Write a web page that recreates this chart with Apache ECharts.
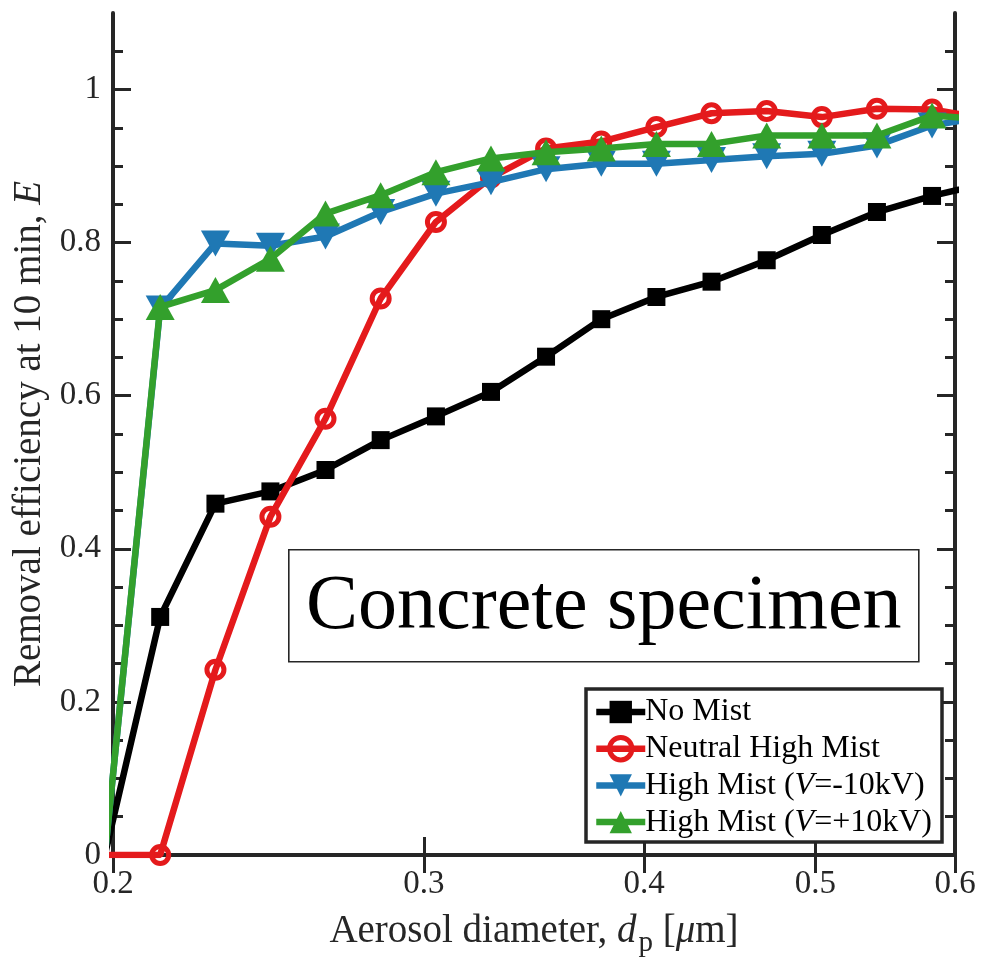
<!DOCTYPE html>
<html>
<head>
<meta charset="utf-8">
<script src="https://cdn.jsdelivr.net/npm/echarts@6/dist/echarts.min.js"></script>
<style>
html,body{margin:0;padding:0;background:#fff;}
#chart{width:989px;height:965px;}
</style>
</head>
<body>
<div id="chart"></div>
<script>
// Aerosol diameters (µm), SMPS channels (first and last lie just outside the axis range)
const diameters = [0.1979, 0.2127, 0.2286, 0.2456, 0.2639, 0.2836, 0.3048, 0.3275, 0.3519, 0.3782, 0.4064, 0.4367, 0.4693, 0.5043, 0.5419, 0.5823, 0.6257];
const noMist      = [0.000, 0.311, 0.459, 0.475, 0.503, 0.542, 0.573, 0.605, 0.651, 0.700, 0.729, 0.749, 0.777, 0.810, 0.840, 0.861, 0.878];
const neutralHigh = [0.000, 0.000, 0.242, 0.442, 0.570, 0.727, 0.827, 0.885, 0.923, 0.932, 0.951, 0.969, 0.972, 0.964, 0.975, 0.974, 0.962];
const highNeg     = [0.000, 0.714, 0.799, 0.796, 0.808, 0.840, 0.864, 0.879, 0.896, 0.903, 0.903, 0.908, 0.913, 0.916, 0.927, 0.953, 0.965];
const highPos     = [0.000, 0.716, 0.738, 0.779, 0.838, 0.862, 0.892, 0.910, 0.918, 0.923, 0.929, 0.929, 0.940, 0.940, 0.940, 0.966, 0.961];
const seriesNames = ['No Mist', 'Neutral High Mist', 'High Mist (V=-10kV)', 'High Mist (V=+10kV)'];
const xTicks = [0.2, 0.3, 0.4, 0.5, 0.6];
const yTicks = [0, 0.2, 0.4, 0.6, 0.8, 1];
const yMinorTicks = [0.05, 0.1, 0.15, 0.25, 0.3, 0.35, 0.45, 0.5, 0.55, 0.65, 0.7, 0.75, 0.85, 0.9, 0.95, 1.05];
const annotationText = 'Concrete specimen';

const FONT = 'Liberation Serif';
const AX = '#262626';
const colors = ['#000000', '#E41A1C', '#1F78B4', '#33A02C'];
const LW = 6.5;

function pairs(ys) { return diameters.map((d, i) => [d, ys[i]]); }

const chart = echarts.init(document.getElementById('chart'));

const xBase = {
  type: 'log', logBase: 10, min: 0.2, max: 0.6, gridIndex: 0,
  splitLine: { show: false },
  axisLine: { show: true, lineStyle: { color: AX, width: 4 } },
  axisTick: { show: true, inside: true, length: 18, customValues: xTicks, lineStyle: { color: AX, width: 3 } },
  minorTick: { show: false }
};
const yBase = {
  type: 'value', min: 0, max: 1.1, gridIndex: 0,
  splitLine: { show: false },
  axisLine: { show: true, lineStyle: { color: AX, width: 4 } },
  axisTick: { show: true, inside: true, length: 18, customValues: yTicks, lineStyle: { color: AX, width: 3 } }
};
const yMinor = {
  type: 'value', min: 0, max: 1.1, gridIndex: 0,
  splitLine: { show: false },
  axisLine: { show: false },
  axisLabel: { show: false },
  axisTick: { show: true, inside: true, length: 10, customValues: yMinorTicks, lineStyle: { color: AX, width: 3 } }
};

const option = {
  backgroundColor: '#fff',
  animation: false,
  grid: { left: 113, right: 34, top: 13, bottom: 110, containLabel: false },
  xAxis: [
    Object.assign({}, xBase, {
      position: 'bottom',
      axisLabel: {
        customValues: xTicks, fontFamily: FONT, fontSize: 33, color: AX, margin: 13,
        formatter: v => String(Math.round(v * 10) / 10)
      },
      name: '{n|Aerosol diameter, }{i|d}{s|p}{n| [}{i|\u03bc}{n|m]}',
      nameLocation: 'middle', nameGap: 50,
      nameTextStyle: {
        fontFamily: FONT, fontSize: 39, color: AX,
        rich: {
          n: { fontFamily: FONT, fontSize: 39, color: AX },
          i: { fontFamily: FONT, fontSize: 39, color: AX, fontStyle: 'italic' },
          s: { fontFamily: FONT, fontSize: 29, color: AX, padding: [24, 0, 0, 2] }
        }
      }
    }),
    Object.assign({}, xBase, { position: 'top', axisLabel: { show: false } })
  ],
  yAxis: [
    Object.assign({}, yBase, {
      position: 'left',
      axisLabel: {
        customValues: yTicks, fontFamily: FONT, fontSize: 33, color: AX, margin: 12,
        formatter: v => String(Math.round(v * 10) / 10)
      },
      name: '{n|Removal efficiency at 10 min, }{i|E}',
      nameLocation: 'middle', nameGap: 46, nameRotate: 90,
      nameTextStyle: {
        fontFamily: FONT, fontSize: 39, color: AX,
        rich: {
          n: { fontFamily: FONT, fontSize: 39, color: AX },
          i: { fontFamily: FONT, fontSize: 39, color: AX, fontStyle: 'italic' }
        }
      }
    }),
    Object.assign({}, yMinor, { position: 'left' }),
    Object.assign({}, yBase, { position: 'right', axisLabel: { show: false } }),
    Object.assign({}, yMinor, { position: 'right' })
  ],
  legend: {
    show: true,
    orient: 'vertical',
    left: 586, top: 689,
    data: seriesNames,
    backgroundColor: '#fff',
    borderColor: AX, borderWidth: 3.5, borderRadius: 0,
    padding: [7, 10, 4, 7],
    itemWidth: 49, itemHeight: 28, itemGap: 4.7,
    selectedMode: false,
    lineStyle: { width: 'inherit' },
    itemStyle: { borderWidth: 'inherit' },
    textStyle: {
      fontFamily: FONT, fontSize: 32, color: '#000', lineHeight: 32, padding: [0, 0, 0, -5],
      rich: {
        n: { fontFamily: FONT, fontSize: 32, color: '#000', lineHeight: 32 },
        i: { fontFamily: FONT, fontSize: 32, color: '#000', fontStyle: 'italic', lineHeight: 32 }
      }
    },
    formatter: function (name) {
      const k = name.indexOf('(V=');
      if (k < 0) return '{n|' + name + '}';
      return '{n|' + name.slice(0, k + 1) + '}{i|V}{n|' + name.slice(k + 2) + '}';
    },
    z: 20
  },
  graphic: [{
    type: 'group', left: 288, top: 549, z: 15,
    children: [
      { type: 'rect', shape: { x: 0, y: 0, width: 630, height: 112 },
        style: { fill: '#fff', stroke: AX, lineWidth: 1.6 } },
      { type: 'text', x: 315, y: 58,
        style: { text: annotationText, fontFamily: FONT, fontSize: 78, fill: '#000',
                 textAlign: 'center', textVerticalAlign: 'middle' } }
    ]
  }],
  series: [
    {
      name: seriesNames[0], type: 'line', xAxisIndex: 0, yAxisIndex: 0, data: pairs(noMist),
      clip: true, symbol: 'rect', symbolSize: 18, color: colors[0],
      lineStyle: { width: LW, color: colors[0] }, itemStyle: { color: colors[0] }, z: 2
    },
    {
      name: seriesNames[1], type: 'line', xAxisIndex: 0, yAxisIndex: 0, data: pairs(neutralHigh),
      clip: true, symbol: 'circle', symbolSize: 17, color: colors[1],
      lineStyle: { width: LW, color: colors[1] },
      itemStyle: { color: 'rgba(255,255,255,0)', borderColor: colors[1], borderWidth: 5 }, z: 3
    },
    {
      name: seriesNames[2], type: 'line', xAxisIndex: 0, yAxisIndex: 0, data: pairs(highNeg),
      clip: true, symbol: 'triangle', symbolRotate: 180, symbolSize: [29, 26], color: colors[2],
      lineStyle: { width: LW, color: colors[2] }, itemStyle: { color: colors[2] }, z: 4
    },
    {
      name: seriesNames[3], type: 'line', xAxisIndex: 0, yAxisIndex: 0, data: pairs(highPos),
      clip: true, symbol: 'triangle', symbolSize: [29, 26], color: colors[3],
      lineStyle: { width: LW, color: colors[3] }, itemStyle: { color: colors[3] }, z: 5
    }
  ]
};
chart.setOption(option);
</script>
</body>
</html>
